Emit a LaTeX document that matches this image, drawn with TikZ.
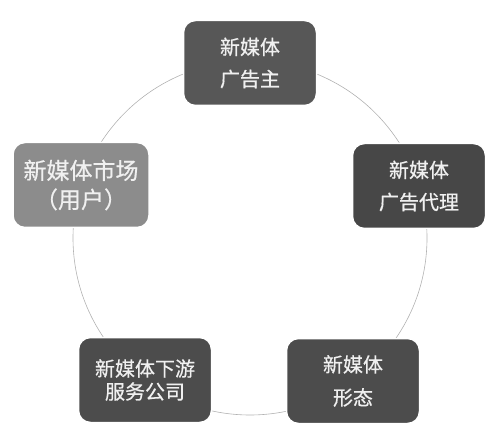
\documentclass[tikz,border=0pt]{standalone}
\usepackage{fontspec}
\setmainfont{Noto Sans CJK SC}[FakeBold=0.6]
\begin{document}
\begin{tikzpicture}[x=1pt,y=-1pt,
  box/.style={rounded corners=12pt, minimum width=133pt, minimum height=85pt,
    inner sep=0pt, align=center, text=black!6, draw=white, line width=1.5pt},
  ring/.style={draw=black!30, line width=0.6pt}]
\useasboundingbox (0,0) rectangle (500,443);
\coordinate (c) at (250,238);
\draw[ring] (c) circle [radius=177];
\node[box, fill=black!66, font=\fontsize{20}{32}\selectfont] (adv) at (250,63) {新媒体\\广告主};
\node[box, fill=black!72, font=\fontsize{20}{32}\selectfont] (agency) at (419,186) {新媒体\\广告代理};
\node[box, fill=black!70, font=\fontsize{20}{33}\selectfont] (form) at (353,381) {新媒体\\形态};
\node[box, fill=black!70, font=\fontsize{20}{23}\selectfont] (svc) at (145,380) {新媒体下游\\服务公司};
\node[box, fill=black!45, minimum width=136pt, font=\fontsize{23}{29}\selectfont] (mkt) at (81,185) {新媒体市场\\（用户）};
\end{tikzpicture}
\end{document}
